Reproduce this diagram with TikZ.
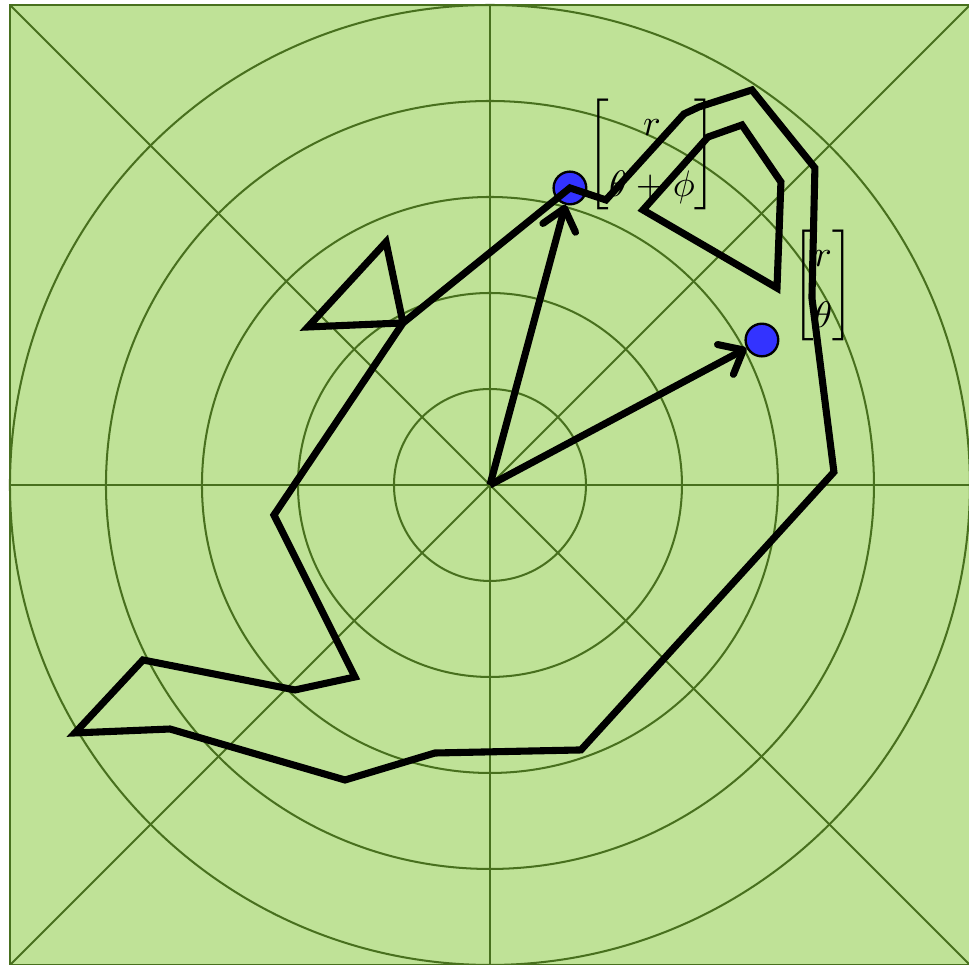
\documentclass[tikz,border=0pt]{standalone}
\usepackage{amsmath}
\usepackage{tikz}
\usetikzlibrary{arrows.meta,positioning}
\definecolor{plotbg}{RGB}{191,226,151}
\definecolor{gridgreen}{RGB}{72,112,30}
\definecolor{dotblue}{RGB}{51,51,255}
\newcommand{\vecfont}{\fontsize{11}{13}\selectfont\renewcommand{\arraystretch}{1.37}\delimiterfactor=850 \delimitershortfall=10pt}

\begin{document}
\begin{tikzpicture}[
      gridline/.style={draw=gridgreen, line width=0.6pt},
      shape line/.style={line width=2.1pt, line join=miter},
      vec/.style={line width=2.1pt, -{Straight Barb[length=6pt,width=10pt,round]}},
      pt/.style={circle, draw=black, line width=0.7pt, fill=dotblue, minimum size=0.34cm, inner sep=0pt},
      vlabel/.style={inner sep=0pt, font=\vecfont}
    ]
      \useasboundingbox (-5.104,-5.0) rectangle (4.99,5.052);

      % Polar grid
      \draw[gridline, fill=plotbg] (-5,-5) rectangle (5,5);
      \draw[gridline] (-5,0) -- (5,0) (0,-5) -- (0,5);
      \draw[gridline] (-5,-5) -- (5,5) (-5,5) -- (5,-5);
      \foreach \r in {1,...,5}
        \draw[gridline] (0,0) circle (\r);

      % Vector labels
      \node[vlabel] (lab rot) at (1.688,3.448)
        {$\begin{bmatrix} r \\ \theta+\phi \end{bmatrix}$};
      \node[vlabel] (lab orig) at (3.469,2.083)
        {$\begin{bmatrix} r \\ \theta \end{bmatrix}$};

      % Points
      \coordinate (o) at (0,0);
      \node[pt] (p rot) at (0.833,3.094) {};
      \node[pt] (p orig) at (2.833,1.510) {};

      % Outline
      \draw[shape line] (p rot.center) -- (1.208,2.969) -- (2.021,3.865) -- (2.177,3.938)
        -- (2.729,4.115) -- (3.385,3.302) -- (3.354,1.948) -- (3.583,0.135)
        -- (0.948,-2.760) -- (-0.573,-2.792) -- (-1.510,-3.073) -- (-3.333,-2.542)
        -- (-4.323,-2.583) -- (-3.615,-1.823) -- (-2.031,-2.135) -- (-1.406,-2.0)
        -- (-2.25,-0.313) -- (-0.906,1.688) -- (-1.896,1.646) -- (-1.083,2.531)
        -- (-0.906,1.688) -- cycle;
      \draw[shape line] (1.594,2.865) -- (2.271,3.625) -- (2.625,3.75)
        -- (3.031,3.156) -- (2.990,2.052) -- cycle;

      % Vectors
      \draw[vec] (o) -- (p rot);
      \draw[vec] (o) -- (p orig);
    \end{tikzpicture}
\end{document}
